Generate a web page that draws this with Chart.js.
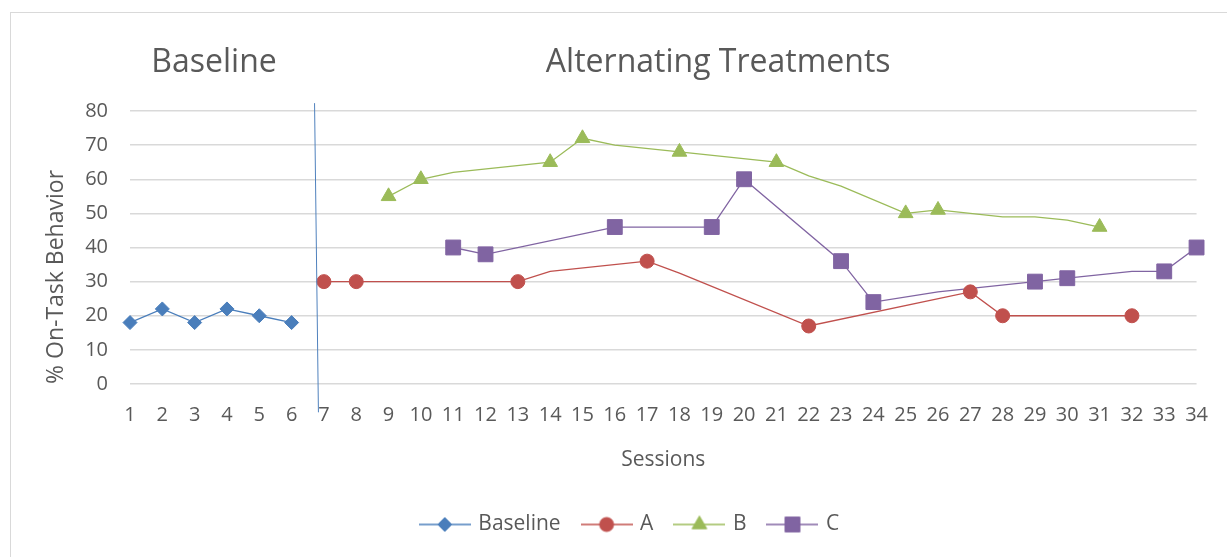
<!DOCTYPE html>
<html>
<head>
<meta charset="utf-8">
<script src="https://cdn.jsdelivr.net/npm/chart.js@4/dist/chart.umd.min.js"></script>
<style>
  body { margin: 0; background: #fff; overflow: hidden; }
  #wrap { position: relative; width: 1227px; height: 557px; }
  #frame { position: absolute; left: 10px; top: 12px; width: 1300px; height: 700px; border: 1px solid #d9d9d9; }
  #chart { position: absolute; left: 0; top: 0; }
</style>
</head>
<body>
<div id="wrap">
  <div id="frame"></div>
  <canvas id="chart" width="1227" height="557"></canvas>
</div>
<script>
// sessions 1..34
const sessions = [1,2,3,4,5,6,7,8,9,10,11,12,13,14,15,16,17,18,19,20,21,22,23,24,25,26,27,28,29,30,31,32,33,34];

// values per session (null = no session for that condition)
const baselineValues = [18,22,18,22,20,18,null,null,null,null,null,null,null,null,null,null,null,null,null,null,null,null,null,null,null,null,null,null,null,null,null,null,null,null];
const aValues = [null,null,null,null,null,null,30,30,null,null,null,null,30,33,null,null,36,32.5,null,null,null,17,null,null,null,null,27,20,null,null,null,20,null,null];
const bValues = [null,null,null,null,null,null,null,null,55,60,62,null,null,65,72,70,null,68,null,null,65,61,58,null,50,51,null,49,49,48,46,null,null,null];
const cValues = [null,null,null,null,null,null,null,null,null,null,40,38,null,null,null,46,null,null,46,60,null,null,36,24,null,27,null,null,30,31,null,33,33,40];

// sessions that carry a marker (other points are only line vertices)
const baselineMarked = [1,2,3,4,5,6];
const aMarked = [7,8,13,17,22,27,28,32];
const bMarked = [9,10,14,15,18,21,25,26,31];
const cMarked = [11,12,16,19,20,23,24,29,30,33,34];

const yTicks = [0,10,20,30,40,50,60,70,80];
const phaseLabels = ['Baseline', 'Alternating Treatments'];
const phaseLabelAt = [3.6, 19.2];
// phase change line: [session, value] at top and bottom
const phaseLine = [[6.71, 82.3], [6.83, -8.3]];

const textColor = '#595959';
const fontFamily = "'Open Sans', 'Noto Sans', sans-serif";

function points(values) {
    return sessions.map((s, i) => ({ x: s, y: values[i] }));
}

function makeSeries(label, values, marked, color, style, radius) {
    return {
        label: label,
        data: points(values),
        borderColor: color,
        backgroundColor: color,
        borderWidth: 1.3,
        pointStyle: style,
        pointRadius: ctx => marked.includes(ctx.raw.x) ? radius : 0,
        pointHoverRadius: ctx => marked.includes(ctx.raw.x) ? radius : 0,
        pointBorderWidth: 1,
        spanGaps: true,
        tension: 0,
        clip: false,
        markerRadius: radius
    };
}

const datasets = [
    makeSeries('Baseline', baselineValues, baselineMarked, '#4a7ebb', 'rectRot', 7),
    makeSeries('A', aValues, aMarked, '#c0504d', 'circle', 7),
    makeSeries('B', bValues, bMarked, '#9bbb59', 'triangle', 8.5),
    makeSeries('C', cValues, cMarked, '#8064a2', 'rect', 10.5)
];

// legend swatch: short line with the marker in the middle
function legendSwatch(ds) {
    const c = document.createElement('canvas');
    c.width = 52;
    c.height = 24;
    const ctx = c.getContext('2d');
    ctx.strokeStyle = ds.borderColor;
    ctx.lineWidth = 1.3;
    ctx.beginPath();
    ctx.moveTo(0, 12);
    ctx.lineTo(52, 12);
    ctx.stroke();
    ctx.fillStyle = ds.backgroundColor;
    ctx.lineWidth = 1;
    Chart.helpers.drawPoint(ctx, { pointStyle: ds.pointStyle, radius: ds.markerRadius, rotation: 0, borderWidth: 1 }, 26, 12);
    return c;
}

const phasePlugin = {
    id: 'phase',
    afterLayout(chart) {
        // legend sits a little right of the plot centre
        chart.legend.left += 31;
        chart.legend.right += 31;
    },
    afterDraw(chart) {
        const ctx = chart.ctx;
        const x = chart.scales.x;
        const y = chart.scales.y;
        ctx.save();
        ctx.strokeStyle = '#4f81bd';
        ctx.lineWidth = 1;
        ctx.beginPath();
        ctx.moveTo(x.getPixelForValue(phaseLine[0][0]), y.getPixelForValue(phaseLine[0][1]));
        ctx.lineTo(x.getPixelForValue(phaseLine[1][0]), y.getPixelForValue(phaseLine[1][1]));
        ctx.stroke();

        ctx.fillStyle = textColor;
        ctx.font = '32px ' + fontFamily;
        ctx.textAlign = 'center';
        ctx.textBaseline = 'middle';
        phaseLabels.forEach((t, i) => {
            ctx.fillText(t, x.getPixelForValue(phaseLabelAt[i]), 63);
        });
        ctx.restore();
    }
};

new Chart(document.querySelector('#chart').getContext('2d'), {
    type: 'line',
    data: { datasets: datasets },
    options: {
        responsive: false,
        animation: false,
        layout: { padding: { left: 0, right: 28, top: 111, bottom: 12 } },
        plugins: {
            tooltip: { enabled: false },
            legend: {
                position: 'bottom',
                labels: {
                    color: textColor,
                    font: { family: fontFamily, size: 21 },
                    usePointStyle: true,
                    pointStyleWidth: 46,
                    padding: 23,
                    generateLabels: chart => chart.data.datasets.map((ds, i) => ({
                        text: ds.label,
                        pointStyle: legendSwatch(ds),
                        fontColor: textColor,
                        strokeStyle: ds.borderColor,
                        fillStyle: ds.backgroundColor,
                        lineWidth: 0,
                        datasetIndex: i
                    }))
                }
            }
        },
        scales: {
            x: {
                type: 'linear',
                min: 1,
                max: 34,
                grid: { display: false, drawTicks: false },
                border: { display: false },
                ticks: { stepSize: 1, padding: 19, color: textColor, font: { family: fontFamily, size: 20 } },
                title: { display: true, text: 'Sessions', color: textColor, font: { family: fontFamily, size: 21 }, padding: { top: 0, bottom: 18 } },
                afterFit: scale => { scale.height = 107; }
            },
            y: {
                min: 0,
                max: 80,
                afterBuildTicks: scale => { scale.ticks = yTicks.map(v => ({ value: v })); },
                grid: { color: '#d9d9d9', lineWidth: 1.5, drawTicks: false },
                border: { display: false },
                ticks: { padding: 22, color: textColor, font: { family: fontFamily, size: 20 } },
                title: { display: true, text: '% On-Task Behavior', align: 'start', color: textColor, font: { family: fontFamily, size: 23 }, padding: { top: 43, bottom: 0 } },
                afterFit: scale => { scale.width = 130; }
            }
        }
    },
    plugins: [phasePlugin]
});
</script>
</body>
</html>
